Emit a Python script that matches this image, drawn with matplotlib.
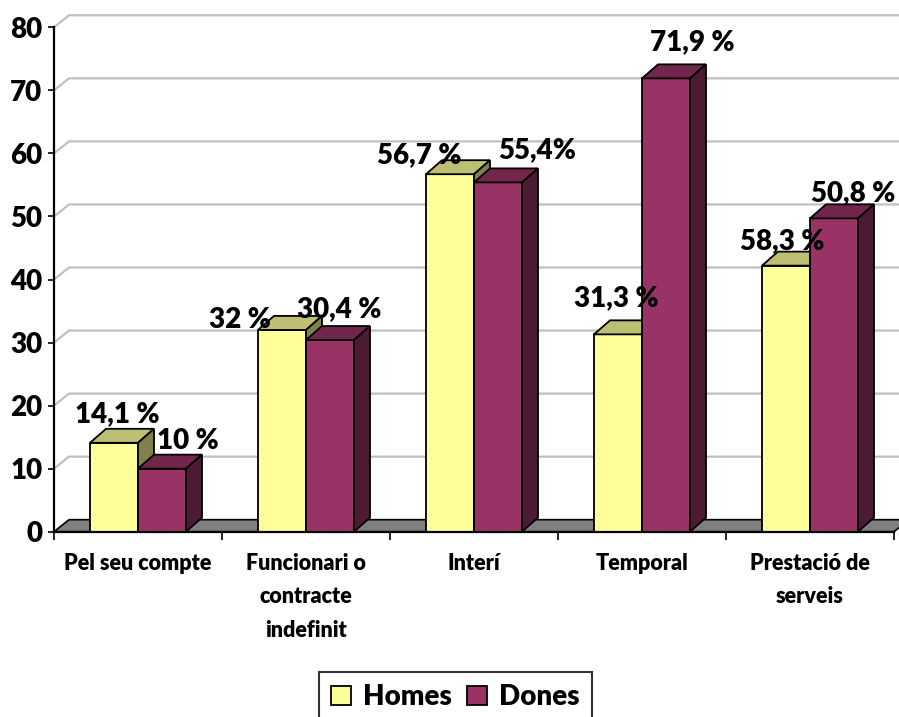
import matplotlib.pyplot as plt
from matplotlib.patches import Polygon, Patch

plt.rcParams['font.family'] = ['Lato', 'DejaVu Sans']
plt.rcParams['font.weight'] = 'heavy'

# values
categories = ['Pel seu compte', 'Funcionari o\ncontracte\nindefinit', 'Interí',
              'Temporal', 'Prestació de\nserveis']
homes = [14.1, 32.0, 56.7, 31.3, 42.2]
dones = [10.0, 30.4, 55.4, 71.9, 49.7]
homes_labels = ['14,1 %', '32 %', '56,7 %', '31,3 %', '58,3 %']
dones_labels = ['10 %', '30,4 %', '55,4%', '71,9 %', '50,8 %']
yticks = [0, 10, 20, 30, 40, 50, 60, 70, 80]

# label offsets in pixels from the front top of each bar (manual placement in original)
homes_off = [(3, 21), (-42, 2), (-31, 11), (-2, 28), (-4, 17)]
dones_off = [(26, 20), (9, 23), (39, 24), (26, 28), (19, 17)]

# colours: front, top, side
homes_col = ('#FFFF99', '#BFBF73', '#80804D')
dones_col = ('#993366', '#73264D', '#4D1A33')

W, H = 899, 717
fig = plt.figure(figsize=(W / 100, H / 100), dpi=100)
ax = fig.add_axes([54 / W, (H - 531.7) / H, 840 / W, 504.4 / H])
ax.set_xlim(-0.5, 4.5)
ax.set_ylim(0, 80)

px_x = 168.0
px_y = 504.4 / 80
wdx, wdy = 15 / px_x, 12 / px_y   # back wall depth
bdx, bdy = 16 / px_x, 14 / px_y   # bar depth
bw = 48 / px_x

# back wall gridlines
for v in yticks[1:]:
    ax.plot([-0.5, -0.5 + wdx, 4.5 + wdx + 0.2], [v, v + wdy, v + wdy],
            color='#C0C0C0', lw=1.6, clip_on=False, zorder=1)

# floor
floor = Polygon([(-0.5, 0), (4.5, 0), (4.5 + wdx, wdy), (-0.5 + wdx, wdy)],
                closed=True, facecolor='#808080', edgecolor='black', lw=1.2,
                clip_on=False, zorder=2)
ax.add_patch(floor)


def draw_bar(x, h, cols, z):
    x0, x1 = x - bw / 2, x + bw / 2
    ax.bar(x, h, width=bw, color=cols[0], edgecolor='black', lw=1.3, zorder=z)
    top = Polygon([(x0, h), (x1, h), (x1 + bdx, h + bdy), (x0 + bdx, h + bdy)],
                  closed=True, facecolor=cols[1], edgecolor='black', lw=1.3,
                  clip_on=False, zorder=z)
    side = Polygon([(x1, 0), (x1 + bdx, bdy), (x1 + bdx, h + bdy), (x1, h)],
                   closed=True, facecolor=cols[2], edgecolor='black', lw=1.3,
                   clip_on=False, zorder=z)
    ax.add_patch(top)
    ax.add_patch(side)


z = 3
for i in range(len(categories)):
    draw_bar(i - bw / 2, homes[i], homes_col, z)
    draw_bar(i + bw / 2, dones[i], dones_col, z + 1)
    z += 2

for i in range(len(categories)):
    ax.annotate(homes_labels[i], (i - bw / 2, homes[i]), xytext=homes_off[i],
                textcoords='offset pixels', ha='center', va='baseline',
                fontsize=20, zorder=50, annotation_clip=False)
    ax.annotate(dones_labels[i], (i + bw / 2, dones[i]), xytext=dones_off[i],
                textcoords='offset pixels', ha='center', va='baseline',
                fontsize=20, zorder=50, annotation_clip=False)

# axes
for s in ['top', 'right']:
    ax.spines[s].set_visible(False)
ax.spines['left'].set_linewidth(1.6)
ax.spines['bottom'].set_linewidth(1.6)
ax.spines['bottom'].set_zorder(30)
ax.set_yticks(yticks)
ax.set_yticklabels([str(v) for v in yticks], fontsize=20)
ax.tick_params(axis='y', direction='out', length=4.5, width=1.2, pad=4)
ax.set_xticks(range(len(categories)))
ax.set_xticklabels(categories, fontsize=15.5, linespacing=1.75)
ax.tick_params(axis='x', which='major', length=0, pad=15)
ax.set_xticks([i - 0.5 for i in range(len(categories) + 1)], minor=True)
ax.tick_params(axis='x', which='minor', direction='out', length=6, width=1.2)
ax.patch.set_alpha(0)

handles = [Patch(facecolor=homes_col[0], edgecolor='black', lw=1.3, label='Homes'),
           Patch(facecolor=dones_col[0], edgecolor='black', lw=1.3, label='Dones')]
leg = fig.legend(handles=handles, loc='upper center', ncol=2,
                 bbox_to_anchor=(455.5 / W, 1 - 671.7 / H),
                 prop={'size': 20, 'weight': 'heavy'}, frameon=True, fancybox=False,
                 handlelength=0.7, handleheight=0.7, handletextpad=0.45,
                 columnspacing=0.55, borderpad=0.45, borderaxespad=0)
leg.get_frame().set_edgecolor('black')
leg.get_frame().set_linewidth(1.5)

fig.savefig('out.png', dpi=100)
